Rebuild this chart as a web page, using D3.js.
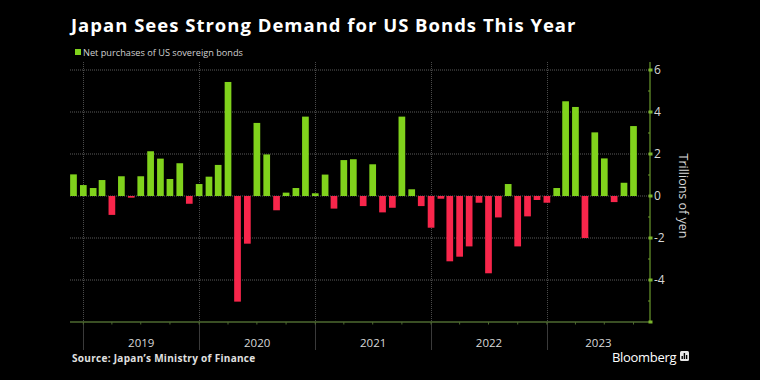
<!DOCTYPE html>
<html>
<head>
<meta charset="utf-8">
<script src="https://cdn.jsdelivr.net/npm/d3@7"></script>
<style>
  body { margin: 0; background: #000; }
  svg { display: block; font-family: "Open Sans", "DejaVu Sans", sans-serif; }
</style>
</head>
<body>
<div id="chart"></div>
<script>
// net purchases of US sovereign bonds, trillions of yen, monthly Dec 2018 - Oct 2023
var firstMonth = "2018-12-01";
var lastMonth = "2023-10-01";
var netPurchases = [
  1.03, 0.52, 0.38, 0.76, -0.90, 0.94, -0.08, 0.94, 2.13, 1.78, 0.81, 1.56,
  -0.37, 0.57, 0.92, 1.48, 5.43, -5.03, -2.27, 3.48, 1.98, -0.68, 0.16, 0.38,
  3.78, 0.13, 1.02, -0.60, 1.71, 1.75, -0.48, 1.51, -0.78, -0.56, 3.78, 0.32,
  -0.48, -1.51, -0.13, -3.11, -2.89, -2.40, -0.32, -3.68, -1.02, 0.57, -2.40, -0.97,
  -0.19, -0.32, 0.38, 4.51, 4.24, -2.00, 3.03, 1.79, -0.29, 0.63, 3.33
];
var yearLabels = ["2019", "2020", "2021", "2022", "2023"];
var yTicks = [-6, -4, -2, 0, 2, 4, 6];
var yMinorTicks = [-5, -3, -1, 1, 3, 5];

var width = 760, height = 380;
var margin = { top: 62, right: 110, bottom: 58, left: 70 };

var parse = d3.timeParse("%Y-%m-%d");
var months = d3.timeMonth.range(parse(firstMonth), d3.timeMonth.offset(parse(lastMonth), 1));
var data = months.map(function(m, i) { return { date: m, value: netPurchases[i] }; });

var green = "#80d21c", red = "#f8264b";

var svg = d3.select("#chart").append("svg")
    .attr("width", width)
    .attr("height", height);

svg.append("rect").attr("width", width).attr("height", height).attr("fill", "#000");

var x = d3.scaleTime()
    .domain([new Date(2018, 10, 20), new Date(2023, 10, 22)])
    .range([margin.left, width - margin.right]);

var y = d3.scaleLinear()
    .domain([-6, 6])
    .range([height - margin.bottom, margin.top + 8]);

// horizontal dotted grid
svg.append("g").selectAll("line")
    .data(yTicks.filter(function(d) { return d > -6; }))
    .enter().append("line")
    .attr("x1", margin.left).attr("x2", width - margin.right)
    .attr("y1", function(d) { return y(d); }).attr("y2", function(d) { return y(d); })
    .style("stroke", "#5a5a5a")
    .style("stroke-width", 1)
    .style("stroke-dasharray", "1,1");

// year separators
var years = d3.timeYear.range(new Date(2019, 0, 1), new Date(2024, 0, 1));
var sep = svg.append("g");
sep.selectAll("line.grid")
    .data(years)
    .enter().append("line")
    .attr("class", "grid")
    .attr("x1", function(d) { return Math.round(x(d)) + 0.5; })
    .attr("x2", function(d) { return Math.round(x(d)) + 0.5; })
    .attr("y1", margin.top).attr("y2", y(-6))
    .style("stroke", "#4a4a4a")
    .style("stroke-dasharray", "1,1");
sep.selectAll("line.below")
    .data(years)
    .enter().append("line")
    .attr("class", "below")
    .attr("x1", function(d) { return Math.round(x(d)) + 0.5; })
    .attr("x2", function(d) { return Math.round(x(d)) + 0.5; })
    .attr("y1", y(-6)).attr("y2", y(-6) + 28)
    .style("stroke", "#3a3a3a");

// bars
var barW = 6.7;
svg.append("g").selectAll("rect")
    .data(data)
    .enter().append("rect")
    .attr("x", function(d) { return x(d.date) - barW / 2; })
    .attr("width", barW)
    .attr("y", function(d) { return y(Math.max(0, d.value)); })
    .attr("height", function(d) { return Math.abs(y(d.value) - y(0)); })
    .attr("fill", function(d) { return d.value >= 0 ? green : red; });

// bottom axis
var xAxis = svg.append("g")
    .attr("transform", "translate(0," + y(-6) + ")");
xAxis.append("line")
    .attr("x1", margin.left).attr("x2", width - margin.right)
    .style("stroke", "#4e6a30")
    .style("stroke-width", 1.5);
xAxis.selectAll("line.q")
    .data(d3.timeMonth.every(3).range(new Date(2019, 0, 1), x.domain()[1]))
    .enter().append("line")
    .attr("class", "q")
    .attr("x1", function(d) { return x(d); }).attr("x2", function(d) { return x(d); })
    .attr("y1", 0).attr("y2", 2.5)
    .style("stroke", "#4e6a30");

var d0 = x.domain()[0], d1 = x.domain()[1];
xAxis.selectAll("text")
    .data(yearLabels)
    .enter().append("text")
    .attr("x", function(d) {
        var a = new Date(+d, 0, 1), b = new Date(+d + 1, 0, 1);
        if (a < d0) a = d0;
        if (b > d1) b = d1;
        return (x(a) + x(b)) / 2;
    })
    .attr("y", 25)
    .attr("text-anchor", "middle")
    .style("font-size", "11.5px")
    .style("fill", "#d8d8d8")
    .text(function(d) { return d; });

// right axis
var yAxis = svg.append("g")
    .attr("transform", "translate(" + (width - margin.right) + ",0)");
yAxis.append("line")
    .attr("y1", margin.top).attr("y2", y(-6))
    .style("stroke", "#6a9a2c")
    .style("stroke-width", 1.2);
yAxis.selectAll("line.minor")
    .data(yMinorTicks)
    .enter().append("line")
    .attr("class", "minor")
    .attr("x1", -2).attr("x2", 0)
    .attr("y1", function(d) { return y(d); }).attr("y2", function(d) { return y(d); })
    .style("stroke", "#6a9a2c");
yAxis.selectAll("rect.major")
    .data(yTicks)
    .enter().append("rect")
    .attr("class", "major")
    .attr("x", -1.5).attr("width", 4)
    .attr("y", function(d) { return y(d) - 1.5; }).attr("height", 3)
    .attr("fill", "#7bb52c");
yAxis.selectAll("text")
    .data(yTicks.filter(function(d) { return d > -6; }))
    .enter().append("text")
    .attr("x", 4)
    .attr("y", function(d) { return y(d); })
    .attr("dy", "0.36em")
    .style("font-size", "12px")
    .style("fill", "#d8d8d8")
    .text(function(d) { return d < 0 ? "-" + Math.abs(d) : d; });

svg.append("text")
    .attr("transform", "translate(679," + y(0) + ") rotate(90)")
    .attr("text-anchor", "middle")
    .style("font-size", "12.5px")
    .style("fill", "#d8d8d8")
    .text("Trillions of yen");

// title + legend
svg.append("text")
    .attr("x", 71).attr("y", 32)
    .style("font-size", "18.5px")
    .style("font-weight", "bold")
    .style("letter-spacing", "1px")
    .style("fill", "#fff")
    .text("Japan Sees Strong Demand for US Bonds This Year");

svg.append("rect")
    .attr("x", 75).attr("y", 49).attr("width", 6).attr("height", 6)
    .attr("fill", green);
svg.append("text")
    .attr("x", 83).attr("y", 55.5)
    .style("font-size", "9.2px")
    .style("fill", "#d0d0d0")
    .text("Net purchases of US sovereign bonds");

// footer
svg.append("text")
    .attr("x", 72).attr("y", 362)
    .style("font-size", "10px")
    .style("font-weight", "bold")
    .style("letter-spacing", "0.3px")
    .style("fill", "#e0e0e0")
    .text("Source: Japan\u2019s Ministry of Finance");

svg.append("text")
    .attr("x", 612).attr("y", 362)
    .style("font-size", "13px")
    .style("fill", "#fff")
    .style("letter-spacing", "-0.3px")
    .text("Bloomberg");

var logo = svg.append("g").attr("transform", "translate(680,351)");
logo.append("rect").attr("width", 9).attr("height", 10).attr("rx", 1.5).attr("fill", "#e8e8e8");
logo.selectAll("rect.b")
    .data([3, 6, 4])
    .enter().append("rect")
    .attr("class", "b")
    .attr("x", function(d, i) { return 1.5 + i * 2.2; })
    .attr("y", function(d) { return 8 - d; })
    .attr("width", 1.4)
    .attr("height", function(d) { return d; })
    .attr("fill", "#000");
</script>
</body>
</html>
